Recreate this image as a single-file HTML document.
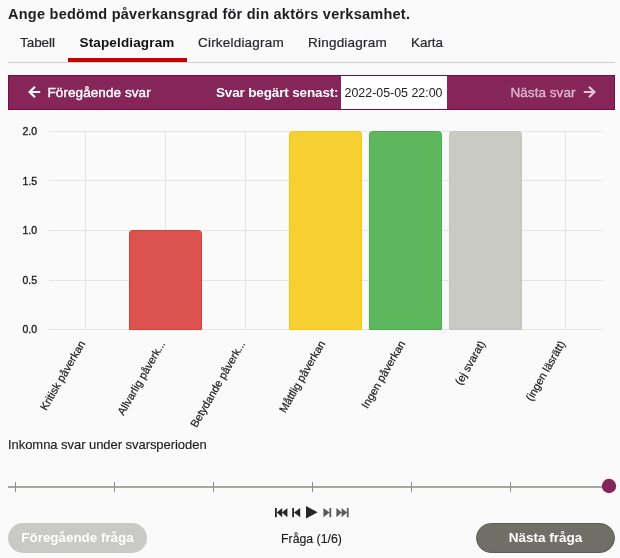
<!DOCTYPE html>
<html lang="sv">
<head>
<meta charset="utf-8">
<title>Stapeldiagram</title>
<style>
html,body{margin:0;padding:0;}
body{width:620px;height:558px;background:#fafafa;position:relative;overflow:hidden;font-family:"Liberation Sans",sans-serif;color:#222;}
.abs{position:absolute;white-space:nowrap;}
#title{left:8px;top:5.500px;font-size:14.500px;font-weight:bold;color:#1e1e22;letter-spacing:0.25px;}
.tab{top:35px;font-size:13.500px;color:#26262b;-webkit-text-stroke:0.2px #26262b;}
#tabline{left:8px;top:62px;width:607px;height:1px;background:#cfcfca;}
#tabsel{left:68px;top:58px;width:119px;height:4px;background:#cc0000;}
#bar{left:8px;top:75px;width:605px;height:33px;background:#862658;border:1px solid #730f45;}
#bar .t{position:absolute;white-space:nowrap;color:#fff;font-size:13.500px;top:8.500px;-webkit-text-stroke:0.4px #fff;}
#date{position:absolute;left:331.500px;top:0px;width:106px;height:33px;background:#fff;color:#222;font-size:12.400px;line-height:35px;text-align:center;}
</style>
</head>
<body>
<div id="title" class="abs">Ange bedömd påverkansgrad för din aktörs verksamhet.</div>
<div class="abs tab" style="left:20px;letter-spacing:-0.05px">Tabell</div>
<div class="abs tab" style="left:79.500px;font-weight:bold;color:#111;letter-spacing:0.15px;-webkit-text-stroke:0">Stapeldiagram</div>
<div class="abs tab" style="left:198px;letter-spacing:0.2px">Cirkeldiagram</div>
<div class="abs tab" style="left:308px;letter-spacing:0.22px">Ringdiagram</div>
<div class="abs tab" style="left:411px;letter-spacing:-0.05px">Karta</div>
<div id="tabline" class="abs"></div>
<div id="tabsel" class="abs"></div>
<div id="bar" class="abs">
  <svg style="position:absolute;left:18.500px;top:9.600px" width="13" height="12" viewBox="0 0 13 12"><path d="M12.200 6H2M7 0.800L1.600 6L7 11.200" fill="none" stroke="#fff" stroke-width="2.200"/></svg>
  <div class="t" style="left:38.500px;letter-spacing:0.08px">Föregående svar</div>
  <div class="t" style="left:207px;font-weight:bold;letter-spacing:-0.15px;-webkit-text-stroke:0">Svar begärt senast:</div>
  <div id="date">2022-05-05 22:00</div>
  <div class="t" style="left:501.500px;color:#d9b3c8;letter-spacing:0.05px;-webkit-text-stroke:0.4px #d9b3c8">Nästa svar</div>
  <svg style="position:absolute;left:574px;top:9.600px" width="13" height="12" viewBox="0 0 13 12"><path d="M0.800 6H11M6 0.800L11.400 6L6 11.200" fill="none" stroke="#e2c4d4" stroke-width="2.200"/></svg>
</div>
<svg class="abs" style="left:0;top:110px" width="620" height="320" viewBox="0 110 620 320" font-family="Liberation Sans, sans-serif">
  <g stroke="#e4e4e4" stroke-width="1" fill="none">
    <path d="M48.500 131.500H602.500M48.500 180.500H602.500M48.500 230.500H602.500M48.500 280.500H602.500M48.500 329.500H602.500"/>
    <path d="M85.500 131V329M165.500 131V329M245.500 131V329M325.500 131V329M405.500 131V329M485.500 131V329M565.500 131V329"/>
  </g>
  <g font-size="10.500" fill="#222" stroke="#222" stroke-width="0.350" text-anchor="end">
    <text x="37" y="135">2.0</text><text x="37" y="184.500">1.5</text><text x="37" y="234">1.0</text><text x="37" y="284">0.5</text><text x="37" y="333">0.0</text>
  </g>
  <path d="M129.500 329.500V233.500a3 3 0 0 1 3-3H198.500a3 3 0 0 1 3 3V329.500Z" fill="#db524f" stroke="#d43f3a"/>
  <path d="M289.500 329.500V134.500a3 3 0 0 1 3-3H358.500a3 3 0 0 1 3 3V329.500Z" fill="#f6d031" stroke="#f2c718"/>
  <path d="M369.500 329.500V134.500a3 3 0 0 1 3-3H438.500a3 3 0 0 1 3 3V329.500Z" fill="#5cb75d" stroke="#4cae4c"/>
  <path d="M449.500 329.500V134.500a3 3 0 0 1 3-3H518.500a3 3 0 0 1 3 3V329.500Z" fill="#c9cac4" stroke="#c3c4be"/>
  <g font-size="11" fill="#1c1c1c" stroke="#1c1c1c" stroke-width="0.200" text-anchor="end">
    <text transform="translate(85.500,343.500) rotate(-60)">Kritisk påverkan</text>
    <text transform="translate(165.500,343.500) rotate(-60)">Allvarlig påverk...</text>
    <text transform="translate(245.500,343.500) rotate(-60)">Betydande påverk...</text>
    <text transform="translate(325.500,343.500) rotate(-60)">Måttlig påverkan</text>
    <text transform="translate(405.500,343.500) rotate(-60)">Ingen påverkan</text>
    <text transform="translate(485.500,343.500) rotate(-60)">(ej svarat)</text>
    <text transform="translate(565.500,343.500) rotate(-60)">(ingen läsrätt)</text>
  </g>
</svg>
<div class="abs" style="left:8px;top:437px;font-size:13px;letter-spacing:-0.05px;color:#1c1c1c;-webkit-text-stroke:0.15px #1c1c1c">Inkomna svar under svarsperioden</div>
<svg class="abs" style="left:0;top:470px" width="620" height="50" viewBox="0 470 620 50">
  <path d="M8 487H604" stroke="#8c8c86" stroke-width="1.400" fill="none"/>
  <path d="M15.500 482V492M114.500 482V492M213.500 482V492M312.500 482V492M411.500 482V492M510.500 482V492" stroke="#8e8e88" stroke-width="1" fill="none"/>
  <circle cx="609" cy="486" r="7.200" fill="#862658"/>
  <g fill="#262626">
    <path d="M275 508h1.800v9.200h-1.800zM282.200 508v9.200l-5.400-4.600zM287.400 508v9.200l-5.400-4.600z"/>
    <path d="M292.200 508h1.800v9.200h-1.800zM300.200 508v9.200l-6.200-4.600z"/>
    <path d="M306 506l11.700 6.300-11.700 6.300z"/>
  </g>
  <g fill="#5a5a58">
    <path d="M329.400 508h1.800v9.200h-1.800zM323.400 508v9.200l6.200-4.600z"/>
    <path d="M346.800 508h1.800v9.200h-1.800zM336.400 508v9.200l5.400-4.600zM341.600 508v9.200l5.400-4.600z"/>
  </g>
</svg>
<div class="abs" style="left:8px;top:523px;width:139px;height:29.500px;border-radius:15px;background:#c9cac5;color:#fff;font-weight:bold;font-size:13.400px;line-height:29.500px;text-align:center">Föregående fråga</div>
<div class="abs" style="left:261.500px;top:531.500px;width:100px;text-align:center;font-size:12.300px;color:#1c1c1c;-webkit-text-stroke:0.15px #1c1c1c">Fråga (1/6)</div>
<div class="abs" style="left:476px;top:523px;width:137px;height:27.500px;border:1px solid #5f5f58;border-radius:15px;background:#6f6f68;color:#fff;font-weight:bold;font-size:13.500px;line-height:27.500px;text-align:center">Nästa fråga</div>
</body>
</html>
